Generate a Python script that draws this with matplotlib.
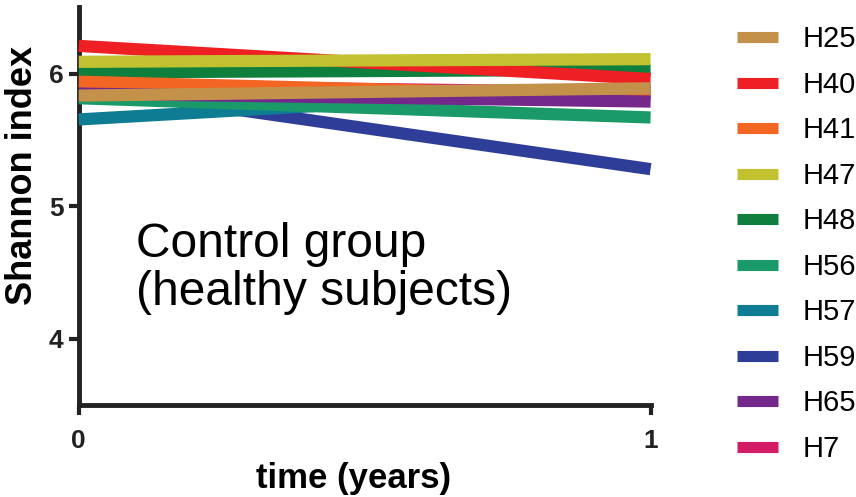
import matplotlib.pyplot as plt

plt.rcParams["font.family"] = ["Liberation Sans", "DejaVu Sans"]

# Shannon index at time 0 and time 1 year for each healthy subject
times = [0, 1]
subjects = ["H25", "H40", "H41", "H47", "H48", "H56", "H57", "H59", "H65", "H7"]
start_values = [5.835, 6.21, 5.94, 6.09, 6.01, 5.815, 5.655, 5.90, 5.85, 5.91]
end_values = [5.89, 5.96, 5.83, 6.11, 6.03, 5.67, 5.90, 5.28, 5.79, 5.86]
colors = ["#C4914A", "#EE2024", "#F26522", "#C2C230", "#0F7F3E",
          "#1A9A68", "#0E7C92", "#2E3E98", "#74288C", "#D41B66"]
layer = [10, 7, 6, 8, 5, 4, 3, 2, 9, 1]

fig = plt.figure(figsize=(8.56, 4.97), dpi=100)
ax = fig.add_axes([0.092, 0.185, 0.668, 0.80])

for name, y0, y1, c, z in zip(subjects, start_values, end_values, colors, layer):
    ax.plot(times, [y0, y1], color=c, lw=8.8, solid_capstyle="butt",
            label=name, zorder=z, clip_on=False)

ax.set_xlim(0, 1)
ax.set_ylim(3.5, 6.5)
ax.set_xticks([0, 1])
ax.set_yticks([4, 5, 6])
ax.tick_params(width=3, length=7, labelsize=19)
ax.tick_params(axis="x", pad=10)
ax.tick_params(axis="y", pad=4)
for lab in ax.get_xticklabels() + ax.get_yticklabels():
    lab.set_fontweight("bold")
for side in ["top", "right"]:
    ax.spines[side].set_visible(False)
for side in ["left", "bottom"]:
    ax.spines[side].set_linewidth(3.5)
    ax.spines[side].set_color("#222222")
ax.tick_params(color="#222222", labelcolor="#222222")

ax.set_ylabel("Shannon index", fontsize=26, fontweight="bold")
ax.yaxis.set_label_coords(-0.067, 0.577)
ax.set_xlabel("time (years)", fontsize=25, fontweight="bold")
ax.xaxis.set_label_coords(0.48, -0.142)

ax.text(0.1, 4.53, "Control group\n(healthy subjects)", fontsize=34.5,
        va="center", ha="left", linespacing=1.1)

leg = ax.legend(loc="upper left", bbox_to_anchor=(1.152, 0.955), frameon=False,
                fontsize=21, handlelength=1.4, handletextpad=0.85,
                labelspacing=0.6, borderaxespad=0, borderpad=0)
for h in leg.get_lines():
    h.set_linewidth(8)

fig.savefig("out.png", dpi=100)
